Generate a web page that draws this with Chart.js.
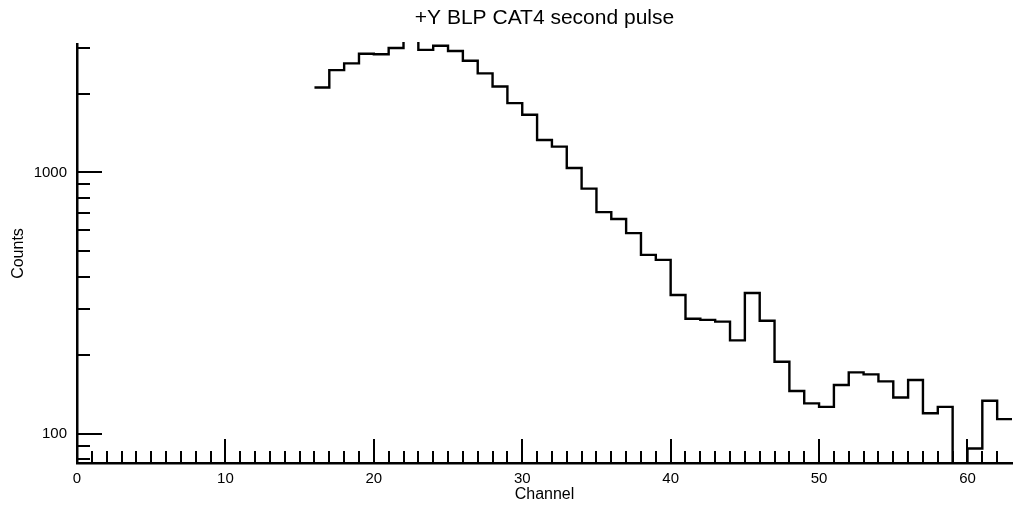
<!DOCTYPE html>
<html><head><meta charset="utf-8">
<script src="https://cdn.jsdelivr.net/npm/chart.js@4.4.0/dist/chart.umd.min.js"></script>
<style>html,body{margin:0;padding:0;background:#fff;} canvas{display:block;}</style>
</head><body>
<canvas id="c" width="1016" height="510"></canvas>
<script>
// ---- data ----
const firstChannel = 16;
const counts = [2110, 2460, 2610, 2840, 2830, 2990, 3300, 2940, 3050, 2910,
                2670, 2390, 2130, 1840, 1660, 1330, 1255, 1040, 867, 705,
                664, 586, 484, 463, 340, 276, 273, 269, 228, 346,
                271, 189, 146, 131, 127, 154, 172, 169, 159, 138,
                161, 120, 127, 60, 88, 134, 114];
const xMajorTicks = [0, 10, 20, 30, 40, 50, 60];
const yTickValues = [80, 90, 100, 200, 300, 400, 500, 600, 700, 800, 900, 1000, 2000, 3000];
const yLabeledTicks = [100, 1000];
const titleText = '+Y BLP CAT4 second pulse';
const xTitle = 'Channel';
const yTitle = 'Counts';

// step-histogram points (left bin edges + closing edge)
const points = counts.map((v, i) => ({x: firstChannel + i, y: v}));
points.push({x: firstChannel + counts.length, y: counts[counts.length - 1]});

const FONT = '"Liberation Sans", Arial, Helvetica, sans-serif';

const inwardTicks = {
  id: 'inwardTicks',
  afterDatasetsDraw(chart) {
    const {ctx, chartArea: a, scales: {x, y}} = chart;
    ctx.save();
    ctx.strokeStyle = '#000';
    ctx.lineWidth = 2;
    ctx.beginPath();
    for (let c = Math.ceil(x.min) + 1; c < x.max; c++) {
      const px = Math.round(x.getPixelForValue(c));
      const len = (c % 10 === 0) ? 24 : 12;
      ctx.moveTo(px, a.bottom);
      ctx.lineTo(px, a.bottom - len);
    }
    yTickValues.forEach(v => {
      const py = Math.round(y.getPixelForValue(v));
      const len = yLabeledTicks.includes(v) ? 25 : 13;
      ctx.moveTo(a.left, py);
      ctx.lineTo(a.left + len, py);
    });
    ctx.stroke();
    ctx.restore();
  }
};

new Chart(document.getElementById('c'), {
  type: 'line',
  data: {
    datasets: [{
      data: points,
      borderColor: '#000',
      borderWidth: 2.4,
      stepped: 'before',
      fill: false,
      pointRadius: 0,
      clip: {left: 0, top: 2, right: 2, bottom: 0}
    }]
  },
  options: {
    responsive: false,
    animation: false,
    devicePixelRatio: 1,
    layout: {padding: {left: 0, right: 4, top: 0, bottom: 0}},
    plugins: {
      legend: {display: false},
      tooltip: {enabled: false},
      title: {
        display: true, text: titleText, color: '#000', fullSize: false,
        font: {family: FONT, size: 21, weight: 'normal'},
        padding: {top: 5.8, bottom: 13}
      }
    },
    scales: {
      x: {
        type: 'linear', min: 0, max: 63,
        grid: {display: false, drawTicks: false},
        border: {display: true, color: '#000', width: 2.5},
        ticks: {color: '#000', font: {family: FONT, size: 15}, padding: 7, maxRotation: 0, autoSkip: false},
        afterBuildTicks: s => { s.ticks = xMajorTicks.map(v => ({value: v})); },
        afterFit: s => { s.height = 47; },
        title: {display: true, text: xTitle, color: '#000', font: {family: FONT, size: 16}, padding: {top: 0, bottom: 6}}
      },
      y: {
        type: 'logarithmic', min: 77.5, max: 3096,
        grid: {display: false, drawTicks: false},
        border: {display: true, color: '#000', width: 2.5},
        ticks: {color: '#000', font: {family: FONT, size: 15}, padding: 10,
                callback: v => yLabeledTicks.includes(v) ? String(v) : ''},
        afterBuildTicks: s => { s.ticks = yTickValues.map(v => ({value: v})); },
        afterFit: s => { s.width = 77; },
        title: {display: true, text: yTitle, color: '#000', font: {family: FONT, size: 16}, padding: {top: 9, bottom: 0}}
      }
    }
  },
  plugins: [inwardTicks]
});
</script>
</body></html>
